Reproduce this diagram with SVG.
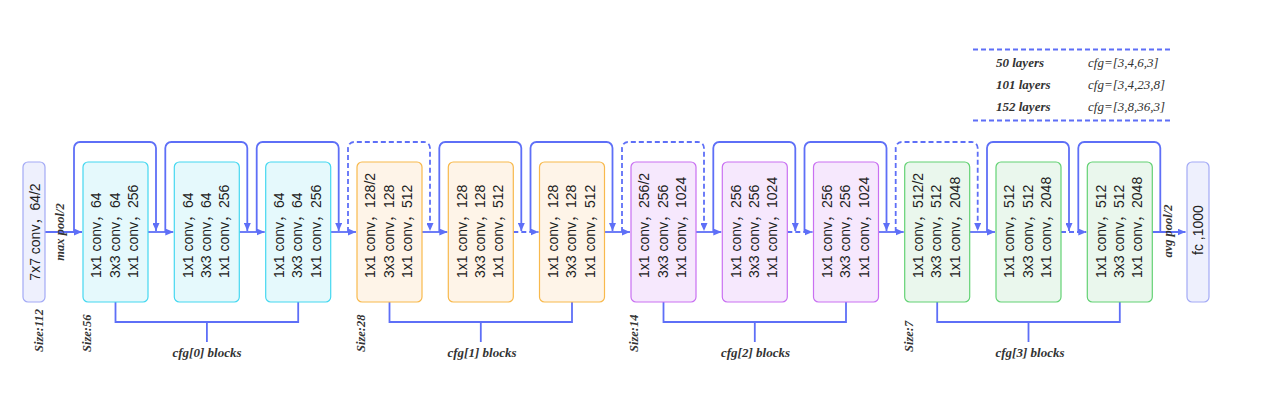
<svg xmlns="http://www.w3.org/2000/svg" width="1261" height="405" viewBox="0 0 1261 405">
<style>
.bg{fill:#ffffff}
.io{fill:#eef0fd;stroke:#a3aaf6;stroke-width:1.2}
.s1{fill:#e5f9fc;stroke:#45d8f0;stroke-width:1.2}
.s2{fill:#fef4e8;stroke:#f8b94c;stroke-width:1.2}
.s3{fill:#f6e8fd;stroke:#c970f2;stroke-width:1.2}
.s4{fill:#eaf7ed;stroke:#63d274;stroke-width:1.2}
.t{font-family:"Liberation Sans","Noto Sans CJK SC",sans-serif;font-size:14px;fill:#222}
.it{font-family:"Liberation Serif",serif;font-style:italic;font-weight:bold;font-size:12.5px;fill:#333}
.lg{font-family:"Liberation Serif",serif;font-style:italic;font-weight:bold;font-size:13px;fill:#333}
.lc{font-family:"Liberation Serif",serif;font-style:italic;font-size:13px;fill:#333}
.c{fill:none;stroke:#5e6ff7;stroke-width:1.8}
.d{stroke-dasharray:5,3}
.a{marker-end:url(#arr)}
</style>
<defs>
<marker id="arr" markerUnits="userSpaceOnUse" viewBox="0 0 8 7" refX="8" refY="3.5" markerWidth="8" markerHeight="7" orient="auto">
<path d="M0,0 L8,3.5 L0,7 z" fill="#5e6ff7"/>
</marker>
</defs>
<rect class="bg" x="0" y="0" width="1261" height="405"/>

<g id="connectors">
<path class="c a" d="M45,232 H82"/>
<path class="c a" d="M148,232 H173.3"/>
<path class="c a" d="M239.3,232 H264.7"/>
<path class="c a" d="M330.7,232 H356"/>
<path class="c a" d="M422,232 H447.3"/>
<path class="c d a" d="M513.3,232 H538.5"/>
<path class="c a" d="M604.5,232 H630"/>
<path class="c a" d="M696,232 H721.3"/>
<path class="c d a" d="M787.3,232 H812.5"/>
<path class="c a" d="M878.5,232 H903.7"/>
<path class="c a" d="M969.7,232 H995"/>
<path class="c d a" d="M1061,232 H1086.3"/>
<path class="c a" d="M1152.3,232 H1185.5"/>

<path class="c a" d="M74,232 V148 a6,6 0 0 1 6,-6 H150 a6,6 0 0 1 6,6 V231"/>
<path class="c a" d="M165.3,232 V148 a6,6 0 0 1 6,-6 H241.3 a6,6 0 0 1 6,6 V231"/>
<path class="c a" d="M256.7,232 V148 a6,6 0 0 1 6,-6 H332.7 a6,6 0 0 1 6,6 V231"/>
<path class="c d a" d="M348,232 V148 a6,6 0 0 1 6,-6 H424 a6,6 0 0 1 6,6 V231"/>
<path class="c a" d="M439.3,232 V148 a6,6 0 0 1 6,-6 H515.3 a6,6 0 0 1 6,6 V231"/>
<path class="c a" d="M530.5,232 V148 a6,6 0 0 1 6,-6 H606.5 a6,6 0 0 1 6,6 V231"/>
<path class="c d a" d="M622,232 V148 a6,6 0 0 1 6,-6 H698 a6,6 0 0 1 6,6 V231"/>
<path class="c a" d="M713.3,232 V148 a6,6 0 0 1 6,-6 H789.3 a6,6 0 0 1 6,6 V231"/>
<path class="c a" d="M804.5,232 V148 a6,6 0 0 1 6,-6 H880.5 a6,6 0 0 1 6,6 V231"/>
<path class="c d a" d="M895.7,232 V148 a6,6 0 0 1 6,-6 H971.7 a6,6 0 0 1 6,6 V231"/>
<path class="c a" d="M987,232 V148 a6,6 0 0 1 6,-6 H1063 a6,6 0 0 1 6,6 V231"/>
<path class="c" d="M1078.3,232 V148 a6,6 0 0 1 6,-6 H1154.3 a6,6 0 0 1 6,6 V232"/>

<path class="c" d="M115.5,302 V322 H298.2 V302 M206.9,322 V342"/>
<path class="c" d="M389.5,302 V322 H572 V302 M480.8,322 V342"/>
<path class="c" d="M663.5,302 V322 H846 V302 M754.8,322 V342"/>
<path class="c" d="M937.2,302 V322 H1119.8 V302 M1028.5,322 V342"/>

<path class="c d" d="M973,49.5 H1170"/>
<path class="c d" d="M973,120.5 H1173"/>
</g>

<g id="conv1">
<rect class="io" x="23" y="162" width="22" height="140" rx="5"/>
<text class="t" x="39.5" y="232" text-anchor="middle" transform="rotate(-90 39.5 232)">7x7 conv，64/2</text>
</g>

<g id="b1"><rect class="s1" x="83" y="162" width="65" height="140" rx="5"/>
<text class="t" x="101.4" y="278" transform="rotate(-90 101.4 278)">1x1 conv，64</text>
<text class="t" x="119.5" y="278" transform="rotate(-90 119.5 278)">3x3 conv，64</text>
<text class="t" x="138" y="278" transform="rotate(-90 138 278)">1x1 conv，256</text></g>
<g id="b2"><rect class="s1" x="174.3" y="162" width="65" height="140" rx="5"/>
<text class="t" x="192.7" y="278" transform="rotate(-90 192.7 278)">1x1 conv，64</text>
<text class="t" x="210.8" y="278" transform="rotate(-90 210.8 278)">3x3 conv，64</text>
<text class="t" x="229.3" y="278" transform="rotate(-90 229.3 278)">1x1 conv，256</text></g>
<g id="b3"><rect class="s1" x="265.7" y="162" width="65" height="140" rx="5"/>
<text class="t" x="284.1" y="278" transform="rotate(-90 284.1 278)">1x1 conv，64</text>
<text class="t" x="302.2" y="278" transform="rotate(-90 302.2 278)">3x3 conv，64</text>
<text class="t" x="320.7" y="278" transform="rotate(-90 320.7 278)">1x1 conv，256</text></g>

<g id="b4"><rect class="s2" x="357" y="162" width="65" height="140" rx="5"/>
<text class="t" x="375.4" y="278" transform="rotate(-90 375.4 278)">1x1 conv，128/2</text>
<text class="t" x="393.5" y="278" transform="rotate(-90 393.5 278)">3x3 conv，128</text>
<text class="t" x="412" y="278" transform="rotate(-90 412 278)">1x1 conv，512</text></g>
<g id="b5"><rect class="s2" x="448.3" y="162" width="65" height="140" rx="5"/>
<text class="t" x="466.7" y="278" transform="rotate(-90 466.7 278)">1x1 conv，128</text>
<text class="t" x="484.8" y="278" transform="rotate(-90 484.8 278)">3x3 conv，128</text>
<text class="t" x="503.3" y="278" transform="rotate(-90 503.3 278)">1x1 conv，512</text></g>
<g id="b6"><rect class="s2" x="539.5" y="162" width="65" height="140" rx="5"/>
<text class="t" x="557.9" y="278" transform="rotate(-90 557.9 278)">1x1 conv，128</text>
<text class="t" x="576" y="278" transform="rotate(-90 576 278)">3x3 conv，128</text>
<text class="t" x="594.5" y="278" transform="rotate(-90 594.5 278)">1x1 conv，512</text></g>

<g id="b7"><rect class="s3" x="631" y="162" width="65" height="140" rx="5"/>
<text class="t" x="649.4" y="278" transform="rotate(-90 649.4 278)">1x1 conv，256/2</text>
<text class="t" x="667.5" y="278" transform="rotate(-90 667.5 278)">3x3 conv，256</text>
<text class="t" x="686" y="278" transform="rotate(-90 686 278)">1x1 conv，1024</text></g>
<g id="b8"><rect class="s3" x="722.3" y="162" width="65" height="140" rx="5"/>
<text class="t" x="740.7" y="278" transform="rotate(-90 740.7 278)">1x1 conv，256</text>
<text class="t" x="758.8" y="278" transform="rotate(-90 758.8 278)">3x3 conv，256</text>
<text class="t" x="777.3" y="278" transform="rotate(-90 777.3 278)">1x1 conv，1024</text></g>
<g id="b9"><rect class="s3" x="813.5" y="162" width="65" height="140" rx="5"/>
<text class="t" x="831.9" y="278" transform="rotate(-90 831.9 278)">1x1 conv，256</text>
<text class="t" x="850" y="278" transform="rotate(-90 850 278)">3x3 conv，256</text>
<text class="t" x="868.5" y="278" transform="rotate(-90 868.5 278)">1x1 conv，1024</text></g>

<g id="b10"><rect class="s4" x="904.7" y="162" width="65" height="140" rx="5"/>
<text class="t" x="923.1" y="278" transform="rotate(-90 923.1 278)">1x1 conv，512/2</text>
<text class="t" x="941.2" y="278" transform="rotate(-90 941.2 278)">3x3 conv，512</text>
<text class="t" x="959.7" y="278" transform="rotate(-90 959.7 278)">1x1 conv，2048</text></g>
<g id="b11"><rect class="s4" x="996" y="162" width="65" height="140" rx="5"/>
<text class="t" x="1014.4" y="278" transform="rotate(-90 1014.4 278)">1x1 conv，512</text>
<text class="t" x="1032.5" y="278" transform="rotate(-90 1032.5 278)">3x3 conv，512</text>
<text class="t" x="1051" y="278" transform="rotate(-90 1051 278)">1x1 conv，2048</text></g>
<g id="b12"><rect class="s4" x="1087.3" y="162" width="65" height="140" rx="5"/>
<text class="t" x="1105.7" y="278" transform="rotate(-90 1105.7 278)">1x1 conv，512</text>
<text class="t" x="1123.8" y="278" transform="rotate(-90 1123.8 278)">3x3 conv，512</text>
<text class="t" x="1142.3" y="278" transform="rotate(-90 1142.3 278)">1x1 conv，2048</text></g>

<g id="fc">
<rect class="io" x="1187" y="162" width="22" height="140" rx="5"/>
<text class="t" x="1203" y="230" text-anchor="middle" transform="rotate(-90 1203 230)">fc ,1000</text>
</g>

<g id="labels">
<text class="it" x="64" y="232" text-anchor="middle" transform="rotate(-90 64 232)">max pool/2</text>
<text class="it" x="1172" y="231" text-anchor="middle" transform="rotate(-90 1172 231)">avg pool/2</text>
<text class="it" x="43" y="352" transform="rotate(-90 43 352)">Size:112</text>
<text class="it" x="91" y="352" transform="rotate(-90 91 352)">Size:56</text>
<text class="it" x="365" y="352" transform="rotate(-90 365 352)">Size:28</text>
<text class="it" x="638" y="352" transform="rotate(-90 638 352)">Size:14</text>
<text class="it" x="912.5" y="352" transform="rotate(-90 912.5 352)">Size:7</text>
<text class="lg" x="207" y="357" text-anchor="middle">cfg[0] blocks</text>
<text class="lg" x="482" y="357" text-anchor="middle">cfg[1] blocks</text>
<text class="lg" x="755.5" y="357" text-anchor="middle">cfg[2] blocks</text>
<text class="lg" x="1030" y="357" text-anchor="middle">cfg[3] blocks</text>
</g>

<g id="legend">
<text class="lg" x="996" y="67">50 layers</text>
<text class="lg" x="996" y="89">101 layers</text>
<text class="lg" x="996" y="111">152 layers</text>
<text class="lc" x="1088" y="67">cfg=[3,4,6,3]</text>
<text class="lc" x="1088" y="89">cfg=[3,4,23,8]</text>
<text class="lc" x="1088" y="111">cfg=[3,8,36,3]</text>
</g>
</svg>
